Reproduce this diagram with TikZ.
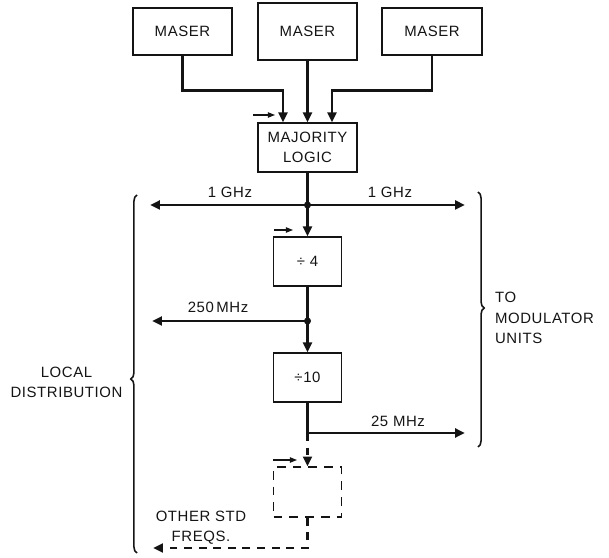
\documentclass[tikz,border=0pt]{standalone}
\usepackage{fontspec}
\setmainfont{Liberation Sans}[LetterSpace=4]
\usepackage{xcolor}
\definecolor{encre}{HTML}{141414}
\usepackage{tikz}
\usetikzlibrary{arrows.meta, decorations.pathreplacing}
\tikzset{
  %% ── Boxes ──────────────────────────────────────────────
  boite/.style        = {draw=encre, line width=0.8pt, text=encre, align=center,
                         inner sep=2pt, minimum height=0.98cm},
  boiteTirets/.style  = {boite, line width=0.7pt, dash pattern=on 5pt off 4pt},
  %%
  %% ── Arrows ─────────────────────────────────────────────
  trait/.style        = {draw=encre, line width=1.5pt},
  fleche/.style       = {trait, -{Triangle[length=5.6pt, width=5pt]}},
  flecheTirets/.style = {fleche, dash pattern=on 4.5pt off 3.8pt},
  flecheEntree/.style = {draw=encre, line width=0.7pt,
                         -{Triangle[length=4pt, width=3pt]}},
  accolade/.style     = {draw=encre, line width=0.9pt, decorate,
                         decoration={brace, amplitude=3.5pt}},
  %%
  %% ── Text ───────────────────────────────────────────────
  etiquette/.style    = {text=encre, inner sep=1pt, align=center},
}

\begin{document}
\begin{tikzpicture}[x=1cm, y=1cm, font=\fontsize{8.5}{11.5}\selectfont]
\useasboundingbox (0,0) rectangle (12.18,11.14);

\node[boite, minimum width=1.98cm, minimum height=0.94cm] (maserG) at (3.65,10.51) {MASER};
\node[boite, minimum width=1.98cm, minimum height=1.14cm] (maserC) at (6.15,10.51) {MASER};
\node[boite, minimum width=2.00cm, minimum height=0.94cm] (maserD) at (8.64,10.51) {MASER};

\node[boite, minimum width=1.98cm] (logique) at (6.15,8.19) {MAJORITY\\LOGIC};
\node[boite, minimum width=1.36cm] (div4) at (6.15,5.91) {÷ 4};
\node[boite, minimum width=1.36cm] (div10) at (6.15,3.59) {÷10};
\node[boite, boiteTirets, minimum width=1.36cm, minimum height=1.0cm] (autre) at (6.15,1.30) {};

%% junctions and free ends
\coordinate (noeudGHz) at (6.15,7.04);
\coordinate (noeudMHz) at (6.15,4.72);
\coordinate (coin25) at (6.15,2.48);
\coordinate (ghzG) at (3.00,7.04);
\coordinate (ghzD) at (9.30,7.04);
\coordinate (mhz250) at (3.04,4.72);
\coordinate (mhz25) at (9.30,2.48);
\coordinate (freqs) at (3.06,0.18);

\coordinate (entreeLogA) at (5.06,8.84);
\coordinate (entreeLogB) at (5.50,8.84);
\coordinate (entreeDivA) at (5.48,6.54);
\coordinate (entreeDivB) at (5.86,6.54);
\coordinate (entreeAutA) at (5.46,1.94);
\coordinate (entreeAutB) at (5.94,1.94);

\draw[fleche] (maserG.south) -- ++(0,-0.70) -| ([xshift=-4.9mm]logique.north);
\draw[fleche] (maserC) -- (logique);
\draw[fleche] (maserD.south) -- ++(0,-0.70) -| ([xshift=4.9mm]logique.north);

\draw[trait] (logique) -- (noeudGHz);
\draw[fleche] (noeudGHz) -- (ghzG);
\draw[fleche] (noeudGHz) -- (ghzD);
\draw[fleche] (noeudGHz) -- (div4);
\draw[trait] (div4) -- (noeudMHz);
\draw[fleche] (noeudMHz) -- (mhz250);
\draw[fleche] (noeudMHz) -- (div10);
\draw[fleche] (div10) |- (mhz25);
\draw[flecheTirets] (coin25) -- (autre);
\draw[flecheTirets] (autre) |- (freqs);
\fill[encre] (noeudGHz) circle (2pt);
\fill[encre] (noeudMHz) circle (2pt);

\draw[flecheEntree] (entreeLogA) -- (entreeLogB);
\draw[flecheEntree] (entreeDivA) -- (entreeDivB);
\draw[flecheEntree] (entreeAutA) -- (entreeAutB);

\node[etiquette] (lblGhzG) at (4.60,7.30) {1 GHz};
\node[etiquette] (lblGhzD) at (7.80,7.30) {1 GHz};
\node[etiquette] (lbl250) at (4.36,5.00) {250\,MHz};
\node[etiquette] (lbl25) at (7.96,2.72) {25 MHz};
\node[etiquette] (lblAutres) at (4.02,0.59) {OTHER STD\\FREQS.};

%% braces
\coordinate (accG1) at (2.74,0.08);
\coordinate (accG2) at (2.74,7.24);
\coordinate (accD1) at (9.56,7.30);
\coordinate (accD2) at (9.56,2.20);
\draw[accolade, decoration={aspect=0.486}] (accG1) -- (accG2);
\draw[accolade, decoration={aspect=0.455}] (accD1) -- (accD2);

\node[etiquette] (local) at (1.33,3.50) {LOCAL\\DISTRIBUTION};
\node[etiquette, anchor=west, align=left] (modulateurs) at (9.86,4.78) {TO\\MODULATOR\\UNITS};

\end{tikzpicture}
\end{document}
